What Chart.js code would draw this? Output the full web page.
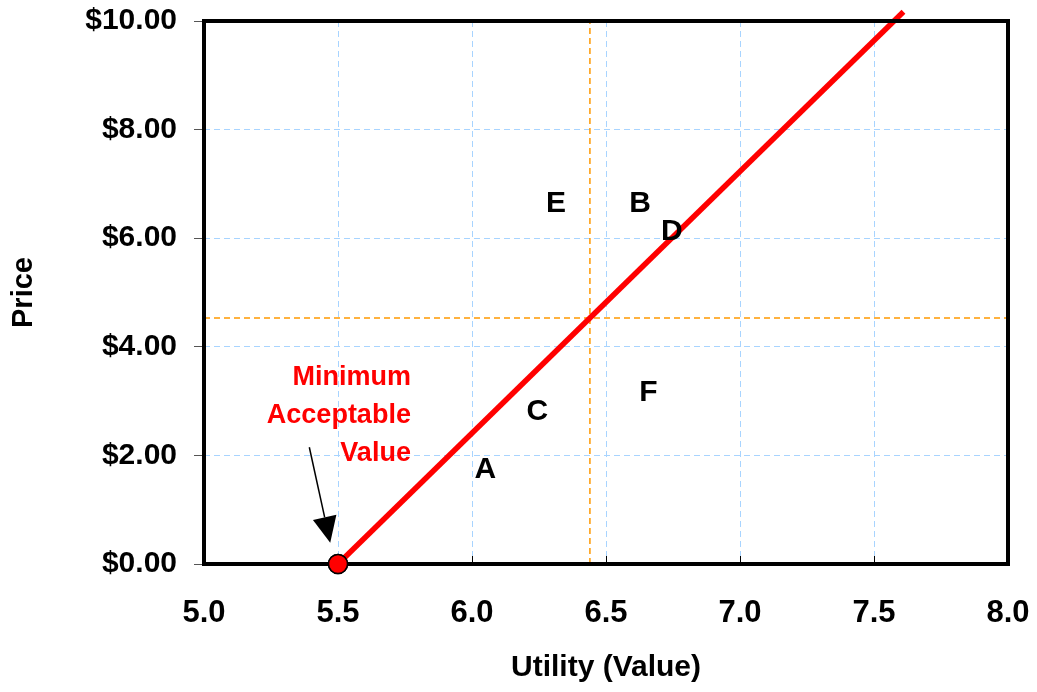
<!DOCTYPE html>
<html>
<head>
<meta charset="utf-8">
<script src="https://cdn.jsdelivr.net/npm/chart.js@4/dist/chart.umd.min.js"></script>
<style>
html,body{margin:0;padding:0;background:#fff;}
#wrap{width:1037px;height:692px;}
</style>
</head>
<body>
<div id="wrap"><canvas id="c" width="1037" height="692"></canvas></div>
<script>
// ---- data ----
const xTickValues = [5.0, 5.5, 6.0, 6.5, 7.0, 7.5, 8.0];
const yTickValues = [0, 2, 4, 6, 8, 10];
const valueLineX = [5.5, 7.61];
const valueLineY = [0, 10.17];
const minPoint = [{x: 5.5, y: 0}];
const refVerticalX = [6.44, 6.44];
const refVerticalY = [0, 10];
const refHorizontalX = [5.0, 8.0];
const refHorizontalY = [4.53, 4.53];
const pointLabels = ['E', 'B', 'D', 'F', 'C', 'A'];
const pointLabelX = [6.313, 6.627, 6.746, 6.658, 6.244, 6.05];
const pointLabelY = [6.63, 6.63, 6.11, 3.15, 2.80, 1.73];
const noteLines = ['Minimum', 'Acceptable', 'Value'];
const noteX = 5.772;
const noteY = [3.44, 2.73, 2.04];
const arrowFrom = {x: 5.393, y: 2.15};
const arrowTo = {x: 5.471, y: 0.39};

const BOLD = '"Liberation Sans", Arial, sans-serif';

const toXY = (xs, ys) => xs.map((x, i) => ({x: x, y: ys[i]}));

const overlay = {
  id: 'overlay',
  afterDatasetsDraw(chart) {
    const ctx = chart.ctx, a = chart.chartArea;
    const sx = chart.scales.x, sy = chart.scales.y;
    ctx.save();
    // inner x ticks
    ctx.strokeStyle = '#000'; ctx.lineWidth = 1;
    xTickValues.forEach(v => {
      const px = Math.round(sx.getPixelForValue(v)) + 0.5;
      ctx.beginPath(); ctx.moveTo(px, a.bottom); ctx.lineTo(px, a.bottom - 8); ctx.stroke();
    });
    // frame
    ctx.lineWidth = 4; ctx.strokeStyle = '#000';
    ctx.strokeRect(a.left, a.top, a.right - a.left, a.bottom - a.top);
    // redraw min point on top of frame
    const mp = chart.getDatasetMeta(1).data[0];
    ctx.beginPath(); ctx.arc(mp.x, mp.y, 9.5, 0, Math.PI * 2);
    ctx.fillStyle = '#ff0000'; ctx.fill(); ctx.lineWidth = 1.5; ctx.strokeStyle = '#000'; ctx.stroke();
    // letters
    ctx.fillStyle = '#000'; ctx.font = 'bold 30px ' + BOLD;
    ctx.textAlign = 'center'; ctx.textBaseline = 'middle';
    pointLabels.forEach((t, i) => {
      ctx.fillText(t, sx.getPixelForValue(pointLabelX[i]), sy.getPixelForValue(pointLabelY[i]));
    });
    // note
    ctx.fillStyle = '#ff0000'; ctx.font = 'bold 27px ' + BOLD; ctx.textAlign = 'right';
    noteLines.forEach((t, i) => {
      ctx.fillText(t, sx.getPixelForValue(noteX), sy.getPixelForValue(noteY[i]));
    });
    // arrow
    const x1 = sx.getPixelForValue(arrowFrom.x), y1 = sy.getPixelForValue(arrowFrom.y);
    const x2 = sx.getPixelForValue(arrowTo.x), y2 = sy.getPixelForValue(arrowTo.y);
    const ang = Math.atan2(y2 - y1, x2 - x1);
    const hl = 26, hw = 12;
    const bx = x2 - hl * Math.cos(ang), by = y2 - hl * Math.sin(ang);
    ctx.strokeStyle = '#000'; ctx.lineWidth = 1.5;
    ctx.beginPath(); ctx.moveTo(x1, y1); ctx.lineTo(bx, by); ctx.stroke();
    ctx.fillStyle = '#000';
    ctx.beginPath();
    ctx.moveTo(x2, y2);
    ctx.lineTo(bx + hw * Math.sin(ang), by - hw * Math.cos(ang));
    ctx.lineTo(bx - hw * Math.sin(ang), by + hw * Math.cos(ang));
    ctx.closePath(); ctx.fill();
    ctx.restore();
  }
};

new Chart(document.getElementById('c'), {
  type: 'scatter',
  data: {
    datasets: [
      {
        data: toXY(valueLineX, valueLineY), showLine: true, borderColor: '#ff0000', borderWidth: 5.5,
        pointRadius: 0, clip: false, order: 1, borderCapStyle: 'butt'
      },
      {
        data: minPoint, pointRadius: 9.5, backgroundColor: '#ff0000', borderColor: '#000', borderWidth: 1.5,
        clip: false, order: 0
      },
      {
        data: toXY(refVerticalX, refVerticalY), showLine: true, borderColor: '#ff9900', borderWidth: 1.5,
        borderDash: [6, 4], pointRadius: 0, order: 3
      },
      {
        data: toXY(refHorizontalX, refHorizontalY), showLine: true, borderColor: '#ff9900', borderWidth: 1.5,
        borderDash: [6, 4], pointRadius: 0, order: 3
      }
    ]
  },
  options: {
    responsive: false, animation: false,
    layout: {padding: {top: 21, right: 29, left: 0, bottom: 0}},
    plugins: {legend: {display: false}, tooltip: {enabled: false}},
    scales: {
      x: {
        type: 'linear', min: 5, max: 8,
        afterBuildTicks: s => { s.ticks = xTickValues.map(v => ({value: v})); },
        afterFit: s => { s.height = 128; s.paddingRight = 0; s.paddingLeft = 0; },
        grid: {color: '#a8d4ff', lineWidth: 1, tickLength: 0, drawTicks: false},
        border: {display: false, dash: [6, 4]},
        ticks: {color: '#000', font: {family: BOLD, size: 31, weight: 'bold'}, padding: 31,
          callback: v => Number(v).toFixed(1), maxRotation: 0, autoSkip: false},
        title: {display: true, text: 'Utility (Value)', color: '#000',
          font: {family: BOLD, size: 30, weight: 'bold'}, padding: {top: 0, bottom: 6}}
      },
      y: {
        type: 'linear', min: 0, max: 10,
        afterBuildTicks: s => { s.ticks = yTickValues.map(v => ({value: v})); },
        afterFit: s => { s.width = 204; s.paddingTop = 0; s.paddingBottom = 0; },
        grid: {color: '#a8d4ff', lineWidth: 1, tickLength: 10, tickColor: '#555', drawTicks: true},
        border: {display: false, dash: [6, 4]},
        ticks: {color: '#000', font: {family: BOLD, size: 30, weight: 'bold'}, padding: 17,
          callback: v => '$' + Number(v).toFixed(2)},
        title: {display: true, text: 'Price', color: '#000',
          font: {family: BOLD, size: 29, weight: 'bold'}, padding: {top: 7, bottom: 0}}
      }
    }
  },
  plugins: [overlay]
});
</script>
</body>
</html>
